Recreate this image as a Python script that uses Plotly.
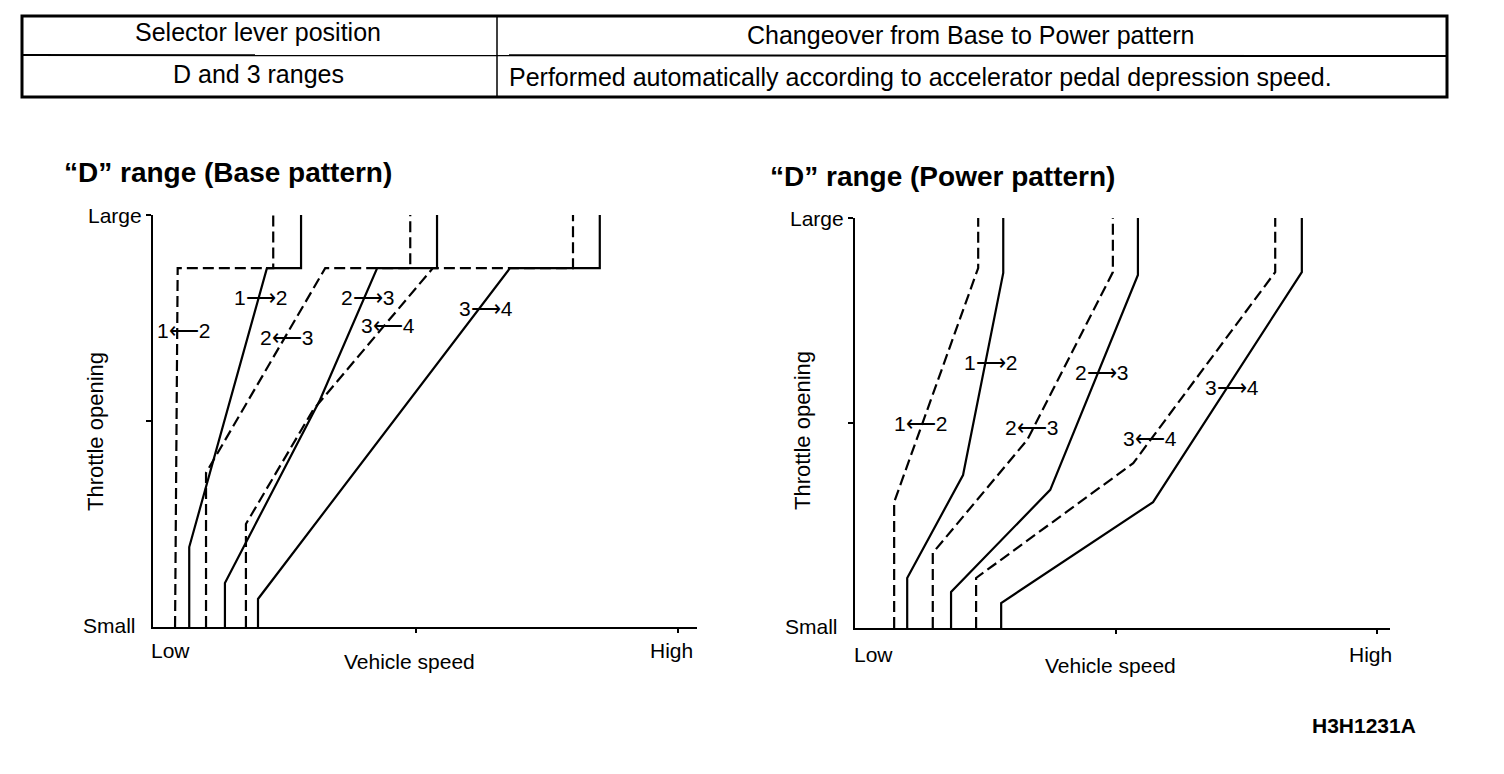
import plotly.graph_objects as go

W, H = 1504, 774
FONT = "Liberation Sans, Arial, Helvetica, sans-serif"

# ---------------- data (vehicle speed 0-100 = Low..High, throttle 0-100 = Small..Large)
curve_names = ["1→2", "1←2", "2→3", "2←3", "3→4", "3←4"]
curve_dash = ["solid", "dash", "solid", "dash", "solid", "dash"]

# Base pattern
base_x = [
    [6.9, 6.9, 21.7, 28.2, 28.2],
    [4.2, 4.7, 22.9, 22.9],
    [13.7, 13.7, 31.8, 42.7, 54.1, 54.1],
    [10.1, 10.1, 32.8, 49.0, 49.0],
    [20.0, 20.0, 68.0, 85.1, 85.1],
    [17.7, 17.7, 30.5, 53.3, 80.0, 80.0],
]
base_y = [
    [0, 19.4, 87.1, 87.1, 100],
    [0, 87.1, 87.1, 100],
    [0, 10.7, 55.1, 87.1, 87.1, 100],
    [0, 37.4, 87.1, 87.1, 100],
    [0, 6.8, 87.1, 87.1, 100],
    [0, 25.0, 52.7, 87.1, 87.1, 100],
]

# Power pattern
power_x = [
    [10.0, 10.0, 20.7, 28.4, 28.4],
    [7.5, 7.5, 23.6, 23.6],
    [18.4, 18.4, 37.4, 54.2, 54.2],
    [14.9, 14.9, 33.0, 49.4, 49.4],
    [28.0, 28.0, 57.1, 85.6, 85.6],
    [23.2, 23.2, 53.3, 80.5, 80.5],
]
power_y = [
    [0, 12.2, 37.3, 86.6, 100],
    [0, 30.7, 87.8, 100],
    [0, 8.8, 33.7, 86.1, 100],
    [0, 18.3, 45.9, 86.8, 100],
    [0, 6.1, 30.7, 86.8, 100],
    [0, 12.2, 40.2, 86.8, 100],
]

table_header = ["Selector lever position", "Changeover from Base to Power pattern"]
table_row = ["D and 3 ranges", "Performed automatically according to accelerator pedal depression speed."]
titles = ["“D” range (Base pattern)", "“D” range (Power pattern)"]
x_labels = ["Low", "Vehicle speed", "High"]
y_labels = ["Small", "Throttle opening", "Large"]
figure_code = "H3H1231A"


def px(x):
    return x / W


def py(y):
    return 1 - y / H


fig = go.Figure()

dash_map = {"solid": "solid", "dash": "11px,5px"}
for xs_all, ys_all, xa, ya in [(base_x, base_y, "x", "y"), (power_x, power_y, "x2", "y2")]:
    for name, d, xs, ys in zip(curve_names, curve_dash, xs_all, ys_all):
        fig.add_trace(go.Scatter(
            x=xs, y=ys, mode="lines", name=name, xaxis=xa, yaxis=ya,
            line=dict(color="black", width=2.2, dash=dash_map[d]),
            showlegend=False, hoverinfo="skip"))

# axes geometry (pixels)
panels = [
    dict(x0=153, x1=697, xhigh=678, yb=627, yt=215),
    dict(x0=855, x1=1390, xhigh=1377, yb=628, yt=218),
]

layout_axes = {}
for i, p in enumerate(panels):
    sfx = "" if i == 0 else str(i + 1)
    xmax = 100 * (p["x1"] - p["x0"]) / (p["xhigh"] - p["x0"])
    layout_axes["xaxis" + sfx] = dict(
        domain=[px(p["x0"]), px(p["x1"])], range=[0, xmax],
        anchor="y" + sfx, showgrid=False, zeroline=False, showline=True,
        linecolor="black", linewidth=2.2, ticks="outside", ticklen=4,
        tickwidth=1.5, tickcolor="black", tickvals=[50, 100],
        showticklabels=False, fixedrange=True)
    layout_axes["yaxis" + sfx] = dict(
        domain=[py(p["yb"]), py(p["yt"])], range=[0, 100],
        anchor="x" + sfx, showgrid=False, zeroline=False, showline=True,
        linecolor="black", linewidth=2.2, ticks="outside", ticklen=5,
        tickwidth=1.5, tickcolor="black", tickvals=[50, 100],
        showticklabels=False, fixedrange=True)

annotations = []


def txt(text, x, y, size=19, xanchor="center", bold=False, angle=0):
    annotations.append(dict(
        text=("<b>%s</b>" % text) if bold else text, x=px(x), y=py(y),
        xref="paper", yref="paper", showarrow=False, xanchor=xanchor,
        yanchor="middle", textangle=angle,
        font=dict(family=FONT, size=size, color="black")))


# table
txt(table_header[0], 258, 32, size=25)
txt(table_header[1], 970, 35, size=25)
txt(table_row[0], 258, 74, size=25)
txt(table_row[1], 507, 77, size=25, xanchor="left")

# titles
txt(titles[0], 62, 172, size=28, xanchor="left", bold=True)
txt(titles[1], 768, 176, size=28, xanchor="left", bold=True)

# axis labels
for p, (lx, ly, vx, vy, tx, ty) in zip(panels, [
        (149, 650, 409, 661, 96, 431),
        (852, 654, 1110, 665, 803, 431)]):
    txt(x_labels[0], lx, ly, size=21, xanchor="left")
    txt(x_labels[1], vx, vy, size=21)
    txt(x_labels[2], p["xhigh"] - 7, ly, size=21)
    txt(y_labels[2], p["x0"] - 9, p["yt"], size=21, xanchor="right")
    txt(y_labels[0], p["x0"] - 15, p["yb"] - 2, size=21, xanchor="right")
    txt(y_labels[1], tx, ty, size=22, angle=-90)

# curve labels
base_lbl_pos = [(260, 298), (183, 330), (367, 297), (286, 337), (486, 308), (388, 325)]
power_lbl_pos = [(990, 363), (921, 423), (1101, 372), (1031, 428), (1232, 387), (1150, 438)]
for name, (x, y) in zip(curve_names, base_lbl_pos):
    txt(name.replace("→", "⟶").replace("←", "⟵"), x, y, size=21)
for name, (x, y) in zip(curve_names, power_lbl_pos):
    txt(name.replace("→", "⟶").replace("←", "⟵"), x, y, size=21)

txt(figure_code, 1364, 725, size=21, bold=True)

# table border shapes
shapes = [
    dict(type="rect", xref="paper", yref="paper", x0=px(22), x1=px(1447),
         y0=py(16), y1=py(97), line=dict(color="black", width=3)),
    dict(type="line", xref="paper", yref="paper", x0=px(22), x1=px(1447),
         y0=py(55), y1=py(56), line=dict(color="black", width=2)),
    dict(type="line", xref="paper", yref="paper", x0=px(497), x1=px(497),
         y0=py(16), y1=py(97), line=dict(color="black", width=1.5)),
]

fig.update_layout(
    width=W, height=H, margin=dict(l=0, r=0, t=0, b=0),
    paper_bgcolor="white", plot_bgcolor="white",
    annotations=annotations, shapes=shapes, showlegend=False,
    **layout_axes)

fig.write_html("out.html", config={"displayModeBar": False},
               post_script="document.body.style.margin='0';")
